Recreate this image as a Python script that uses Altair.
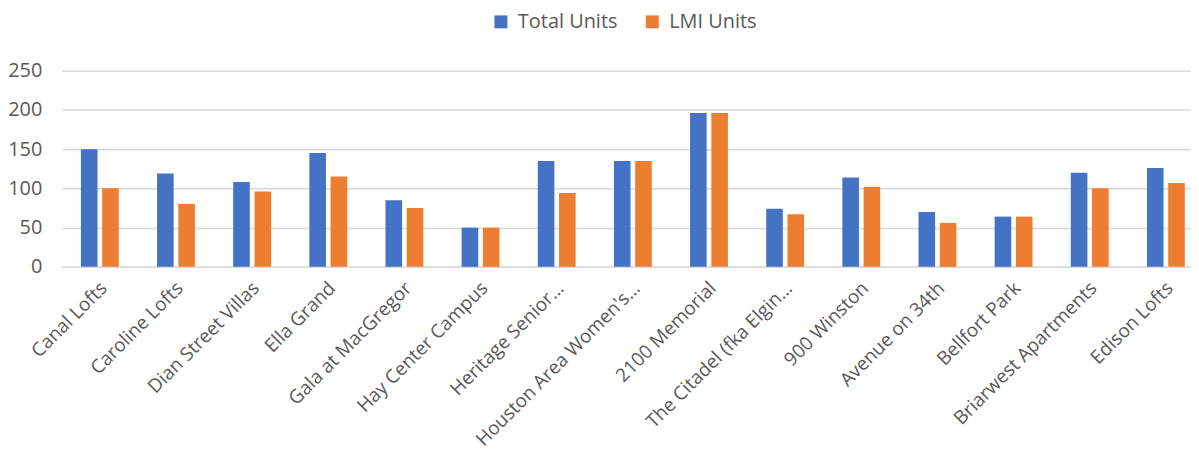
import altair as alt
import pandas as pd

projects = [
    "Canal Lofts", "Caroline Lofts", "Dian Street Villas", "Ella Grand",
    "Gala at MacGregor", "Hay Center Campus", "Heritage Senior…",
    "Houston Area Women's…", "2100 Memorial", "The Citadel (fka Elgin…",
    "900 Winston", "Avenue on 34th", "Bellfort Park", "Briarwest Apartments",
    "Edison Lofts",
]
total_units = [150, 119, 108, 145, 85, 50, 135, 135, 196, 74, 114, 70, 64, 120, 126]
lmi_units = [100, 80, 96, 115, 75, 50, 94, 135, 196, 67, 102, 56, 64, 100, 107]
series = ["Total Units", "LMI Units"]
colors = ["#4472C4", "#ED7D31"]
y_ticks = [0, 50, 100, 150, 200, 250]

rows = []
for p, t, l in zip(projects, total_units, lmi_units):
    rows.append({"Project": p, "Series": series[0], "Units": t})
    rows.append({"Project": p, "Series": series[1], "Units": l})
df = pd.DataFrame(rows)

FONT = "Open Sans"
GREY = "#595959"
FS = 20

chart = (
    alt.Chart(df)
    .mark_bar()
    .encode(
        x=alt.X(
            "Project:N",
            sort=projects,
            scale=alt.Scale(range=[0, 1147], paddingInner=0, paddingOuter=0),
            axis=alt.Axis(
                title=None,
                labelAngle=-45,
                labelAlign="right",
                labelBaseline="middle",
                labelPadding=18,
                labelOffset=4,
                labelFontSize=19,
                labelFont=FONT,
                labelColor=GREY,
                ticks=False,
                domainColor="#d9d9d9",
                domainWidth=1.5,
                labelOverlap=False,
                labelLimit=400,
            ),
        ),
        xOffset=alt.XOffset(
            "Series:N",
            sort=series,
            scale=alt.Scale(paddingInner=0.22, paddingOuter=0.9),
        ),
        y=alt.Y(
            "Units:Q",
            scale=alt.Scale(domain=[0, 250], nice=False),
            axis=alt.Axis(
                title=None,
                values=y_ticks,
                grid=True,
                gridColor="#d9d9d9",
                gridWidth=1.5,
                domain=False,
                ticks=False,
                labelPadding=20,
                labelFontSize=FS,
                labelFont=FONT,
                labelColor=GREY,
            ),
        ),
        color=alt.Color(
            "Series:N",
            sort=series,
            scale=alt.Scale(domain=series, range=colors),
            legend=alt.Legend(
                title=None,
                orient="none",
                direction="horizontal",
                legendX=431,
                legendY=-59,
                symbolType="square",
                symbolSize=169,
                symbolStrokeWidth=0,
                labelFontSize=FS,
                labelFont=FONT,
                labelColor=GREY,
                labelOffset=7,
                columnPadding=24,
                padding=0,
            ),
        ),
    )
    .properties(
        width=1134,
        height=197,
        autosize=alt.AutoSizeParams(type="none"),
        padding={"left": 54, "top": 62, "right": 0, "bottom": 183},
    )
    .configure_view(stroke=None)
)

chart.save("out.html", embed_options={"renderer": "svg", "actions": False})
